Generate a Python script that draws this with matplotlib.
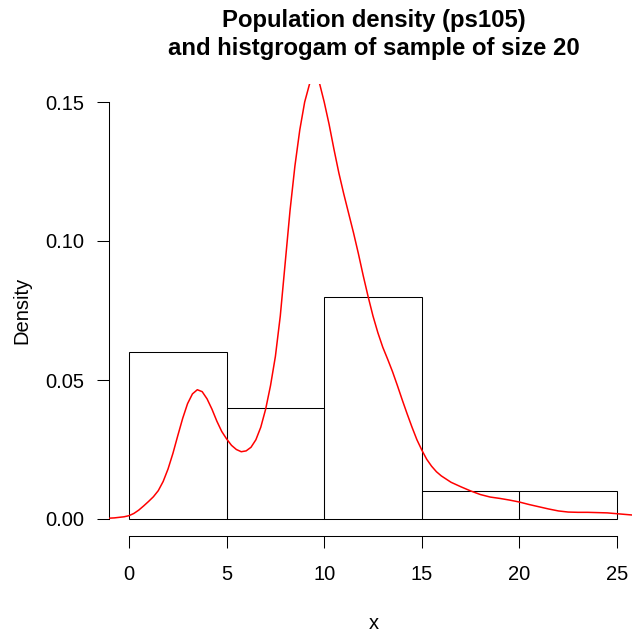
import matplotlib
matplotlib.use("Agg")
import matplotlib.pyplot as plt
import numpy as np

# ---- data ----
bin_edges = [0, 5, 10, 15, 20, 25]
hist_density = [0.06, 0.04, 0.08, 0.01, 0.01]

curve_x = [-1.0, -0.75, -0.5, -0.25, 0.0, 0.25, 0.5, 0.75, 1.0, 1.25, 1.5,
           1.75, 2.0, 2.25, 2.5, 2.75, 3.0, 3.25, 3.5, 3.75, 4.0, 4.25, 4.5,
           4.75, 5.0, 5.25, 5.5, 5.75, 6.0, 6.25, 6.5, 6.75, 7.0, 7.25, 7.5,
           7.75, 8.0, 8.25, 8.5, 8.75, 9.0, 9.25, 9.5, 9.75, 10.0, 10.25,
           10.5, 10.75, 11.0, 11.25, 11.5, 11.75, 12.0, 12.25, 12.5, 12.75,
           13.0, 13.25, 13.5, 13.75, 14.0, 14.25, 14.5, 14.75, 15.0, 15.25,
           15.5, 15.75, 16.0, 16.5, 17.0, 17.5, 18.0, 18.5, 19.0, 19.5, 20.0,
           20.5, 21.0, 21.5, 22.0, 22.5, 23.0, 23.5, 24.0, 24.5, 25.0, 25.5,
           26.0, 26.3]
curve_y = [0.0003, 0.0004, 0.0006, 0.0008, 0.0012, 0.0020, 0.0032, 0.0047,
           0.0063, 0.0080, 0.0102, 0.0135, 0.0180, 0.0236, 0.0300, 0.0362,
           0.0415, 0.0450, 0.0465, 0.0458, 0.0432, 0.0395, 0.0352, 0.0315,
           0.0288, 0.0265, 0.0250, 0.0242, 0.0245, 0.0258, 0.0285, 0.0330,
           0.0395, 0.0480, 0.0585, 0.0730, 0.0920, 0.1110, 0.1270, 0.1400,
           0.1500, 0.1565, 0.1590, 0.1570, 0.1500, 0.1420, 0.1330, 0.1245,
           0.1170, 0.1100, 0.1030, 0.0955, 0.0875, 0.0800, 0.0730, 0.0670,
           0.0618, 0.0575, 0.0530, 0.0480, 0.0428, 0.0378, 0.0330, 0.0285,
           0.0248, 0.0215, 0.0190, 0.0170, 0.0155, 0.0132, 0.0116, 0.0101,
           0.0088, 0.0079, 0.0074, 0.0068, 0.0061, 0.0052, 0.0044, 0.0036,
           0.0029, 0.0025, 0.0024, 0.0024, 0.0023, 0.0022, 0.0019, 0.0016,
           0.0013, 0.0012]

x_ticks = [0, 5, 10, 15, 20, 25]
y_ticks = [0.00, 0.05, 0.10, 0.15]
y_tick_labels = ["0.00", "0.05", "0.10", "0.15"]

title_line1 = "Population density (ps105)"
title_line2 = "and histgrogam of sample of size 20"

# ---- figure ----
W, H = 632, 633
plt.rcParams['font.family'] = ['Liberation Sans', 'DejaVu Sans']
fig = plt.figure(figsize=(W / 100, H / 100), dpi=100)

left_px, right_px, top_px, bottom_px = 109, 639, 84, 536
ax = fig.add_axes([left_px / W, 1 - bottom_px / H,
                   (right_px - left_px) / W, (bottom_px - top_px) / H])

x0_px, x25_px = 129, 617
ppx = (x25_px - x0_px) / 25.0
y0_px, y15_px = 519, 102
ppy = (y0_px - y15_px) / 0.15
ax.set_xlim((left_px - x0_px) / ppx, (right_px - x0_px) / ppx)
ax.set_ylim(-(bottom_px - y0_px) / ppy, (y0_px - top_px) / ppy)

lw = 0.75
widths = np.diff(bin_edges)
ax.bar(bin_edges[:-1], hist_density, width=widths, align='edge',
       fill=False, edgecolor='black', linewidth=lw, zorder=2)
ax.plot(curve_x, curve_y, color='#FF0000', linewidth=1.1, zorder=3,
        solid_joinstyle='round')

for s in ['top', 'right']:
    ax.spines[s].set_visible(False)
ax.spines['left'].set_bounds(0, 0.15)
ax.spines['bottom'].set_bounds(0, 25)
ax.spines['left'].set_linewidth(lw)
ax.spines['bottom'].set_linewidth(lw)

ax.set_xticks(x_ticks)
ax.set_xticklabels([str(t) for t in x_ticks])
ax.set_yticks(y_ticks)
ax.set_yticklabels(y_tick_labels)
ax.tick_params(axis='both', direction='out', length=8.6, width=lw,
               labelsize=14.5, colors='black')
ax.tick_params(axis='y', pad=9.4)
ax.tick_params(axis='x', pad=12.5)

fig.text(22 / W, 1 - 310 / H, "Density", rotation=90, ha='center',
         va='center', fontsize=14.5)
fig.text(374 / W, 1 - 629 / H, "x", ha='center', va='baseline', fontsize=14.5)

fig.text(374 / W, 1 - 26.5 / H, title_line1, ha='center', va='baseline',
         fontsize=17.2, fontweight='bold')
fig.text(374 / W, 1 - 55 / H, title_line2, ha='center', va='baseline',
         fontsize=17.2, fontweight='bold')

fig.savefig("out.png", dpi=100)
